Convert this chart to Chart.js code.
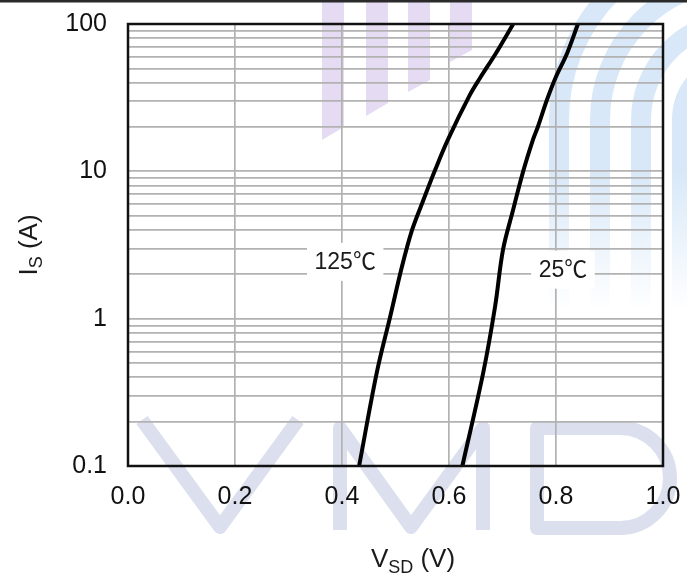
<!DOCTYPE html>
<html>
<head>
<meta charset="utf-8">
<title>I_S vs V_SD</title>
<script src="https://cdn.jsdelivr.net/npm/chart.js@4.4.1/dist/chart.umd.min.js"></script>
<style>
  html, body { margin: 0; padding: 0; background: #fff; }
  canvas { display: block; }
</style>
</head>
<body>
<canvas id="chart" width="687" height="579"></canvas>
<script>
(function () {
  'use strict';

  // body diode forward curves, (V_SD, I_S) pairs
  var vsd125 = [0.432, 0.465, 0.490, 0.512, 0.531, 0.550, 0.574, 0.598, 0.639, 0.658, 0.688, 0.720];
  var is125 = [0.1, 0.43, 1.03, 2.25, 4.0, 6.1, 10.2, 16.4, 33, 43, 63.6, 100];

  var vsd25 = [0.625, 0.664, 0.686, 0.701, 0.720, 0.738, 0.757, 0.766, 0.783, 0.799, 0.821, 0.841];
  var is25 = [0.1, 0.43, 1.2, 2.94, 5.5, 9.8, 16.4, 20.0, 30.5, 43, 63.6, 100];

  var xTicks = [0, 0.2, 0.4, 0.6, 0.8, 1.0];
  var yTicks = [0.1, 1, 10, 100];

  // curve tags and where they sit (data units)
  var tagText = ['125℃', '25℃'];
  var tagVsd = [0.406, 0.813];
  var tagIs = [2.43, 2.15];

  var FONT = "'Liberation Sans', Arial, 'Noto Sans CJK SC', sans-serif";
  var GRID = '#b2b2b2';

  function toPoints(xs, ys) {
    var pts = [];
    for (var i = 0; i < xs.length; i++) {
      pts.push({ x: xs[i], y: ys[i] });
    }
    return pts;
  }

  // 1..9 in every decade between 0.1 and 100
  function logGrid() {
    var vals = [];
    [0.1, 1, 10].forEach(function (dec) {
      for (var k = 1; k < 10; k++) {
        vals.push(k * dec);
      }
    });
    vals.push(100);
    return vals.map(function (v) { return { value: v }; });
  }

  // keep the plot box where it belongs: no extra room for edge labels
  function noEdgePadding(scale) {
    scale.paddingTop = 0;
    scale.paddingBottom = 0;
    scale.paddingLeft = 0;
    scale.paddingRight = 0;
  }

  // faint logo behind the plot
  function drawLogo(ctx) {
    ctx.save();

    // lavender bars at the top
    ctx.fillStyle = '#e5dbf3';
    var bars = [[322, 344, 140, 127], [366, 388, 116, 103], [408, 430, 92, 80], [450, 472, 62, 50]];
    bars.forEach(function (b) {
      ctx.beginPath();
      ctx.moveTo(b[0], 0);
      ctx.lineTo(b[1], 0);
      ctx.lineTo(b[1], b[3]);
      ctx.lineTo(b[0], b[2]);
      ctx.closePath();
      ctx.fill();
    });

    // blue arches on the right, fading out downwards
    var fade = ctx.createLinearGradient(0, 170, 0, 310);
    fade.addColorStop(0, 'rgba(216, 232, 248, 1)');
    fade.addColorStop(1, 'rgba(216, 232, 248, 0)');
    ctx.strokeStyle = fade;
    ctx.lineWidth = 20;
    [181, 140, 99, 58].forEach(function (r) {
      ctx.beginPath();
      ctx.moveTo(740 - r, 310);
      ctx.lineTo(740 - r, 120);
      ctx.arc(740, 120, r, Math.PI, Math.PI * 2);
      ctx.stroke();
    });

    // V M D letters along the bottom
    ctx.strokeStyle = '#dcdfee';
    ctx.lineWidth = 14;
    ctx.lineJoin = 'round';
    ctx.beginPath();
    ctx.moveTo(142, 420);
    ctx.lineTo(220, 527);
    ctx.lineTo(298, 420);
    ctx.stroke();

    ctx.beginPath();
    ctx.moveTo(340, 530);
    ctx.lineTo(340, 428);
    ctx.lineTo(411, 527);
    ctx.lineTo(483, 428);
    ctx.lineTo(483, 530);
    ctx.stroke();

    ctx.beginPath();
    ctx.moveTo(537, 428);
    ctx.lineTo(620, 428);
    ctx.arc(620, 478, 50, -Math.PI / 2, Math.PI / 2);
    ctx.lineTo(537, 528);
    ctx.closePath();
    ctx.stroke();

    ctx.restore();
  }

  // text with a lowered, smaller subscript part
  function drawSubText(ctx, parts, x, y) {
    var total = 0;
    parts.forEach(function (p) {
      ctx.font = p.size + 'px ' + FONT;
      p.w = ctx.measureText(p.t).width;
      total += p.w;
    });
    var cx = x - total / 2;
    parts.forEach(function (p) {
      ctx.font = p.size + 'px ' + FONT;
      ctx.fillText(p.t, cx, y + p.dy);
      cx += p.w;
    });
  }

  var decor = {
    id: 'decor',
    beforeDraw: function (chart) {
      var ctx = chart.ctx;
      ctx.save();
      ctx.fillStyle = '#fff';
      ctx.fillRect(0, 0, chart.width, chart.height);
      ctx.restore();
      drawLogo(ctx);
      ctx.save();
      ctx.strokeStyle = '#2a2a2a';
      ctx.lineWidth = 2.5;
      ctx.beginPath();
      ctx.moveTo(0, 1.2);
      ctx.lineTo(chart.width, 1.2);
      ctx.stroke();
      ctx.restore();
    },
    afterDatasetsDraw: function (chart) {
      var ctx = chart.ctx;
      var a = chart.chartArea;
      var xs = chart.scales.x;
      var ys = chart.scales.y;

      ctx.save();
      ctx.font = '23px ' + FONT;
      ctx.textAlign = 'center';
      ctx.textBaseline = 'middle';
      for (var i = 0; i < tagText.length; i++) {
        var px = xs.getPixelForValue(tagVsd[i]);
        var py = ys.getPixelForValue(tagIs[i]);
        var w = ctx.measureText(tagText[i]).width + 15;
        ctx.fillStyle = '#fff';
        ctx.fillRect(px - w / 2, py - 19, w, 38);
        ctx.fillStyle = '#1a1a1a';
        ctx.fillText(tagText[i], px, py + 1);
      }

      // plot frame
      ctx.strokeStyle = '#111';
      ctx.lineWidth = 2.5;
      ctx.strokeRect(a.left, a.top, a.right - a.left, a.bottom - a.top);
      ctx.restore();
    },
    afterDraw: function (chart) {
      var ctx = chart.ctx;
      ctx.save();
      ctx.fillStyle = '#1a1a1a';
      ctx.textAlign = 'left';
      ctx.textBaseline = 'alphabetic';

      drawSubText(ctx, [
        { t: 'V', size: 26, dy: 0 },
        { t: 'SD', size: 18, dy: 6 },
        { t: ' (V)', size: 26, dy: 0 }
      ], 413, 567);

      ctx.translate(37, 245);
      ctx.rotate(-Math.PI / 2);
      drawSubText(ctx, [
        { t: 'I', size: 26, dy: 0 },
        { t: 'S', size: 18, dy: 5 },
        { t: ' (A)', size: 26, dy: 0 }
      ], 0, 0);
      ctx.restore();
    }
  };

  var curveStyle = {
    borderColor: '#000',
    borderWidth: 4,
    pointRadius: 0,
    fill: false,
    tension: 0.35
  };

  new Chart(document.getElementById('chart').getContext('2d'), {
    type: 'line',
    data: {
      datasets: [
        Object.assign({ label: '125℃', data: toPoints(vsd125, is125) }, curveStyle),
        Object.assign({ label: '25℃', data: toPoints(vsd25, is25) }, curveStyle)
      ]
    },
    options: {
      responsive: false,
      animation: false,
      devicePixelRatio: 1,
      layout: { padding: { left: 0, right: 24, top: 24, bottom: 0 } },
      plugins: {
        legend: { display: false },
        tooltip: { enabled: false }
      },
      scales: {
        x: {
          type: 'linear',
          min: 0,
          max: 1,
          afterBuildTicks: function (scale) {
            scale.ticks = xTicks.map(function (v) { return { value: v }; });
          },
          afterFit: function (scale) {
            scale.height = 113;
            noEdgePadding(scale);
          },
          ticks: {
            padding: 16,
            color: '#111',
            font: { family: FONT, size: 25 },
            callback: function (v) { return v.toFixed(1); }
          },
          grid: { color: GRID, lineWidth: 1.7, drawTicks: false },
          border: { display: false }
        },
        y: {
          type: 'logarithmic',
          min: 0.1,
          max: 100,
          afterBuildTicks: function (scale) { scale.ticks = logGrid(); },
          afterFit: function (scale) {
            scale.width = 128;
            noEdgePadding(scale);
          },
          ticks: {
            padding: 21,
            autoSkip: false,
            color: '#111',
            font: { family: FONT, size: 25 },
            callback: function (v) {
              return yTicks.indexOf(v) >= 0 ? String(v) : '';
            }
          },
          grid: { color: GRID, lineWidth: 1.7, drawTicks: false },
          border: { display: false }
        }
      }
    },
    plugins: [decor]
  });
}());
</script>
</body>
</html>
